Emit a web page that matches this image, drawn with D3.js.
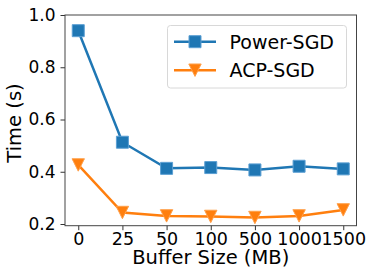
<!DOCTYPE html>
<html>
<head>
<meta charset="utf-8">
<script src="https://cdn.jsdelivr.net/npm/d3@7"></script>
<style>
  body { margin: 0; background: #fff; }
  text { font-family: "DejaVu Sans", sans-serif; fill: #000; }
</style>
</head>
<body>
<script>
const bufferSizes = ["0", "25", "50", "100", "500", "1000", "1500"]
const powerSGD = [0.940, 0.513, 0.413, 0.416, 0.407, 0.421, 0.411]
const acpSGD = [0.426, 0.244, 0.231, 0.229, 0.225, 0.231, 0.254]
const yTicks = [0.2, 0.4, 0.6, 0.8, 1.0]

const width = 374
const height = 280
const margin = { left: 65, right: 17.5, top: 15, bottom: 54.3 }

const svg = d3.select("body")
    .append("svg")
    .attr("width", width)
    .attr("height", height)

const xScale = d3.scalePoint()
    .domain(bufferSizes)
    .range([margin.left, width - margin.right])
    .padding(0.3)

const yScale = d3.scaleLinear()
    .domain([0.1935, 1.0])
    .range([height - margin.bottom, margin.top])

// axes
const xAxis = d3.axisBottom(xScale).tickSizeOuter(0).tickSize(4.5).tickPadding(2.5)
const yAxis = d3.axisLeft(yScale).tickValues(yTicks).tickFormat(d3.format(".1f")).tickSizeOuter(0).tickSize(4.5).tickPadding(5)

const gx = svg.append("g")
    .attr("transform", `translate(0,${height - margin.bottom})`)
    .call(xAxis)
gx.select(".domain").remove()
gx.selectAll("text").attr("font-size", 17.5).attr("font-family", "DejaVu Sans")
gx.selectAll("line").attr("stroke", "#333")

const gy = svg.append("g")
    .attr("transform", `translate(${margin.left},0)`)
    .call(yAxis)
gy.select(".domain").remove()
gy.selectAll("text").attr("font-size", 17).attr("font-family", "DejaVu Sans")
gy.selectAll("line").attr("stroke", "#333")

// frame
svg.append("rect")
    .attr("x", margin.left)
    .attr("y", margin.top)
    .attr("width", width - margin.right - margin.left)
    .attr("height", height - margin.bottom - margin.top)
    .attr("fill", "none")
    .attr("stroke", "#444")
    .attr("stroke-width", 1)

// axis labels
svg.append("text")
    .attr("x", (margin.left + width - margin.right) / 2)
    .attr("y", 264)
    .attr("text-anchor", "middle")
    .attr("font-size", 19.5)
    .text("Buffer Size (MB)")

svg.append("text")
    .attr("transform", `translate(21,123) rotate(-90)`)
    .attr("text-anchor", "middle")
    .attr("font-size", 19.5)
    .text("Time (s)")

// series
const series = [
    { name: "Power-SGD", values: powerSGD, color: "#1f77b4", edge: "#5b9fd3", marker: "square" },
    { name: "ACP-SGD", values: acpSGD, color: "#ff7f0e", edge: "#ffa04a", marker: "triangle" }
]

const line = d3.line()
    .x((d, i) => xScale(bufferSizes[i]))
    .y(d => yScale(d))

const squarePath = d3.symbol().type(d3.symbolSquare).size(12 * 12)
const trianglePath = "M-6.2,-6.2L6.2,-6.2L0,6.2Z"

function drawMarker(g, s, x, y) {
    g.append("path")
        .attr("transform", `translate(${x},${y})`)
        .attr("d", s.marker === "square" ? squarePath() : trianglePath)
        .attr("fill", s.color)
        .attr("stroke", s.edge)
        .attr("stroke-width", 1)
}

series.forEach(s => {
    svg.append("path")
        .datum(s.values)
        .attr("d", line)
        .attr("fill", "none")
        .attr("stroke", s.color)
        .attr("stroke-width", 2.5)

    const g = svg.append("g")
    s.values.forEach((v, i) => drawMarker(g, s, xScale(bufferSizes[i]), yScale(v)))
})

// legend
const legend = svg.append("g")
legend.append("rect")
    .attr("x", 167.5)
    .attr("y", 25.5)
    .attr("width", 179)
    .attr("height", 62.5)
    .attr("rx", 3)
    .attr("fill", "#fff")
    .attr("fill-opacity", 0.8)
    .attr("stroke", "#d8d8d8")
    .attr("stroke-width", 1)

series.forEach((s, i) => {
    const y = 41.7 + i * 28.5
    legend.append("line")
        .attr("x1", 174).attr("x2", 216)
        .attr("y1", y).attr("y2", y)
        .attr("stroke", s.color)
        .attr("stroke-width", 2.5)
    drawMarker(legend, s, 195, y)
    legend.append("text")
        .attr("x", 229.5)
        .attr("y", y)
        .attr("dy", "0.36em")
        .attr("font-size", 19)
        .text(s.name)
})
</script>
</body>
</html>
